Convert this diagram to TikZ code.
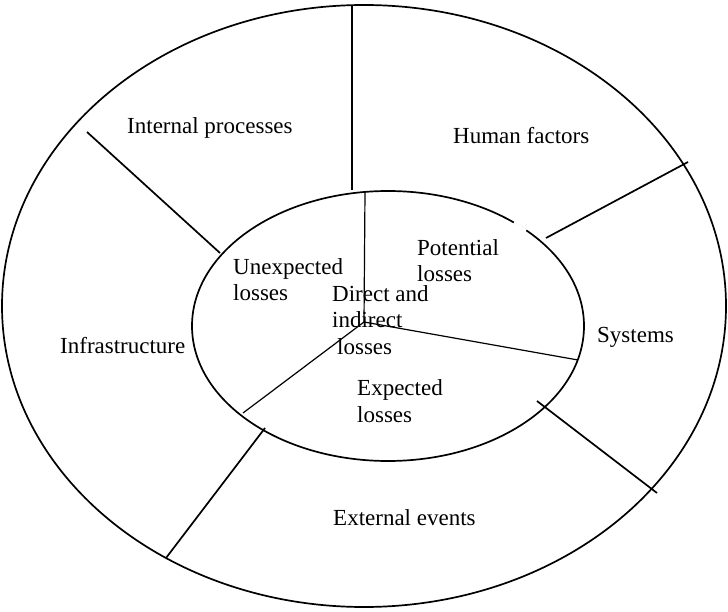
\documentclass[tikz,border=0pt]{standalone}
\usepackage{fontspec}
\setmainfont{Liberation Serif}
\tikzset{
  rim/.style={line width=1.7pt},
  spoke/.style={line width=1.7pt},
  slice/.style={line width=1.2pt},
  lbl/.style={inner sep=0pt, anchor=base west, align=left, font=\fontsize{23}{26.5}\selectfont}
}

\begin{document}
\begin{tikzpicture}[x=1pt,y=-1pt]
  \useasboundingbox (0,0) rectangle (728,612);
  % rings
  \draw[rim] (364,306) ellipse [x radius=362, y radius=301];
  \draw[rim] (388,326) ellipse [x radius=196, y radius=135];
  \draw[white, line width=3pt] (514,222.5) -- (526,230.5);
  % outer spokes
  \draw[spoke] (352,6) -- (352,190);
  \draw[spoke] (87,132) -- (220,253);
  \draw[spoke] (688,162) -- (546,238);
  \draw[spoke] (537,401) -- (657,493);
  \draw[spoke] (265,428) -- (166,558);
  % inner slices
  \coordinate (hub) at (364,322);
  \draw[slice] (365,192) -- (hub);
  \draw[slice] (hub) -- (578,360);
  \draw[slice] (hub) -- (243,413);
  % outer labels
  \node[lbl] (internal) at (127,134) {Internal processes};
  \node[lbl] (human) at (453,144) {Human factors};
  \node[lbl] (infra) at (60,353) {Infrastructure};
  \node[lbl] (systems) at (597,342) {Systems};
  \node[lbl] (external) at (333,525) {External events};
  % inner labels (base = last line)
  \node[lbl] (potential) at (417,282) {Potential\\losses};
  \node[lbl] (unexpected) at (233,301) {Unexpected\\losses};
  \node[lbl] (direct) at (332,354) {Direct and\\indirect\\\hspace{5pt}losses};
  \node[lbl] (expected) at (357,422) {Expected\\losses};
\end{tikzpicture}
\end{document}
